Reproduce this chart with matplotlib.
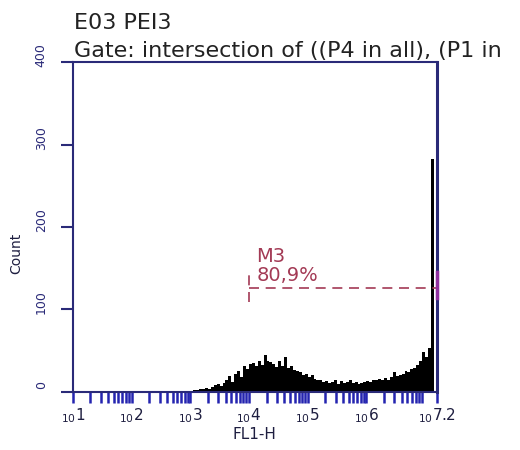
import numpy as np
import matplotlib
matplotlib.use("Agg")
import matplotlib.pyplot as plt
import matplotlib.transforms as mtransforms
from matplotlib.ticker import FixedLocator

plt.rcParams['font.family'] = ['DejaVu Sans']

# histogram channels: log10 edges from 1.0 to 7.2 in steps of 0.05
log_lo = 1.0
log_hi = 7.2
counts = [0] * 33 + [1, 0, 0,
          0, 1, 0, 1,
          1, 2, 2, 3,
          4, 5, 3, 6,
          8, 10, 7, 11,
          14, 19, 12, 22,
          25, 18, 32, 28,
          34, 35, 31, 37,
          33, 45, 38, 36,
          34, 30, 37, 32,
          42, 29, 31, 27,
          26, 24, 21, 22,
          18, 20, 16, 14,
          15, 12, 13, 11,
          12, 14, 10, 13,
          11, 12, 14, 11,
          12, 10, 11, 12,
          13, 12, 15, 14,
          16, 15, 17, 14,
          18, 24, 19, 21,
          22, 26, 24, 28,
          29, 33, 38, 48,
          42, 53, 282, 0]

title1 = "E03 PEI3"
title2 = "Gate: intersection of ((P4 in all), (P1 in"
marker_name = "M3"
marker_pct = "80,9%"
marker_lo = 1e4
marker_hi = 10 ** 7.2
marker_y = 126

y_ticks = [0, 100, 200, 300, 400]
x_major = [1, 2, 3, 4, 5, 6, 7.2]
x_major_labels = ["1", "2", "3", "4", "5", "6", "7.2"]

navy = "#2a2a78"
tick_blue = "#2424b0"
mark_red = "#a33a55"

edges = 10 ** np.linspace(log_lo, log_hi, len(counts) + 1)

fig = plt.figure(figsize=(5.2, 4.5), dpi=100)
ax = fig.add_axes([0.140, 0.129, 0.700, 0.733])

ax.stairs(counts, edges, fill=True, color="black", lw=0)

ax.set_xscale("log")
ax.set_xlim(10 ** log_lo, 10 ** log_hi)
ax.set_ylim(0, 400)

for s in ax.spines.values():
    s.set_color(navy)
    s.set_linewidth(1.5)
ax.spines["right"].set_linewidth(2.2)

ax.xaxis.set_major_locator(FixedLocator([10 ** v for v in x_major]))
ax.set_xticklabels([r"$\mathregular{_{10}}$" + t for t in x_major_labels],
                   fontsize=11, color="#1e1e40")
minors = []
for d in range(1, 7):
    for m in range(2, 10):
        v = m * 10 ** d
        if v < 10 ** log_hi:
            minors.append(v)
ax.xaxis.set_minor_locator(FixedLocator(minors))
ax.xaxis.set_minor_formatter(plt.NullFormatter())
ax.tick_params(axis="x", which="both", direction="out", length=8, width=1.8,
               color=tick_blue, pad=2)

ax.set_yticks(y_ticks)
ax.set_yticklabels([str(v) for v in y_ticks], rotation=90, va="center",
                   fontsize=9, color=navy)
ax.tick_params(axis="y", direction="out", length=9, width=1.5, color=navy, pad=9)
shift = mtransforms.ScaledTranslation(0, 5 / 72, fig.dpi_scale_trans)
for lab in ax.get_yticklabels():
    lab.set_transform(lab.get_transform() + shift)

ax.set_xlabel("FL1-H", fontsize=11, color="#1e1e40", labelpad=2)
ax.set_ylabel("Count", fontsize=10, color="#1e1e40")
ax.yaxis.set_label_coords(-0.135, 0.42)

# marker M3
ax.plot([marker_lo, marker_hi], [marker_y, marker_y], color=mark_red, lw=1.2,
        dashes=(6, 4))
ax.plot([marker_lo, marker_lo], [marker_y - 17, marker_y + 17], color=mark_red,
        lw=1.2, dashes=(6, 4))
ax.plot([marker_hi, marker_hi], [marker_y - 12, marker_y + 20], color="#9030a0",
        lw=2.5, clip_on=False, zorder=5)
ax.text(marker_lo * 1.35, marker_y + 31, marker_name, color=mark_red, fontsize=14,
        ha="left", va="baseline")
ax.text(marker_lo * 1.35, marker_y + 9, marker_pct, color=mark_red, fontsize=14,
        ha="left", va="baseline")

fig.text(0.142, 1 - 29 / 450, title1, fontsize=16, color="#222222", ha="left",
         va="baseline")
fig.text(0.142, 1 - 57 / 450, title2, fontsize=16, color="#222222", ha="left",
         va="baseline")

fig.savefig("out.png", dpi=100, facecolor="white")
